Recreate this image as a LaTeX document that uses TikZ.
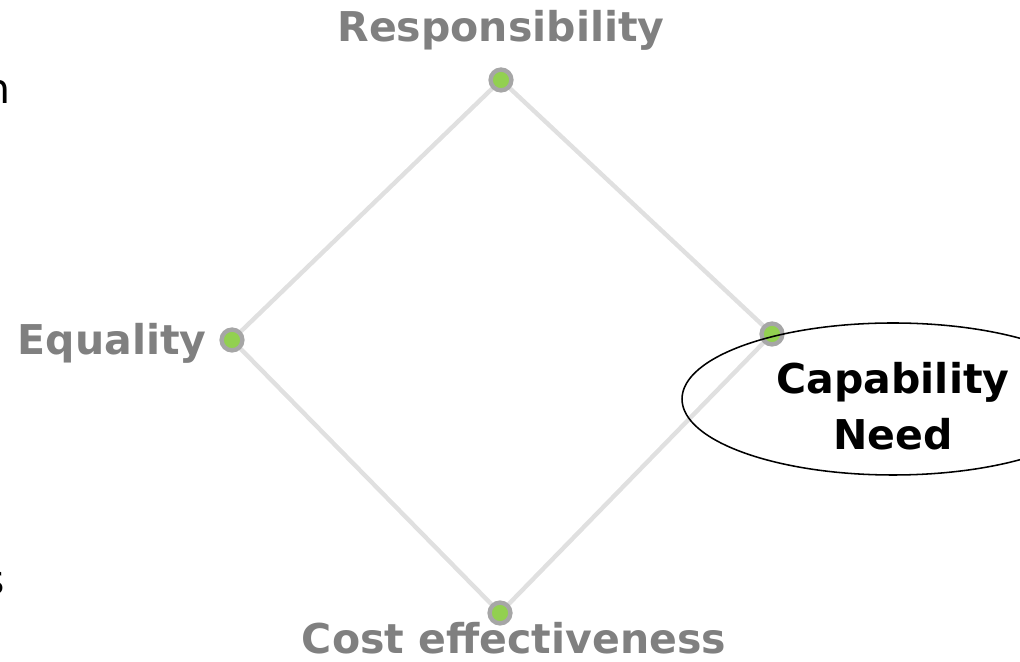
\documentclass[tikz,border=0pt]{standalone}
\usepackage{fontspec}
\setmainfont{DejaVu Sans}
\usepackage{tikz}
\usetikzlibrary{shapes.geometric}
\definecolor{ringgray}{HTML}{A6A6A6}
\definecolor{dotgreen}{HTML}{92D050}
\definecolor{labelgray}{HTML}{808080}
\definecolor{edgegray}{HTML}{E0E0E0}

\begin{document}
\begin{tikzpicture}[
	dot/.style={circle, draw=ringgray, fill=dotgreen, line width=0.11cm, minimum size=0.52cm, inner sep=0pt},
	edge/.style={draw=edgegray, line width=0.11cm},
	corner/.style={font=\fontsize{29.2}{40.5}\selectfont\bfseries, text=labelgray, inner sep=0pt},
	needtext/.style={font=\fontsize{29.2}{40.5}\selectfont\bfseries, align=center, inner sep=0pt},
	cut/.style={font=\fontsize{29.2}{40.5}\selectfont, inner sep=0pt, anchor=base east}
	]
			%%%%% START %%%%%
			
			\useasboundingbox (0, 0) rectangle (25.5, 16.55);
			\clip (0, 0) rectangle (25.5, 16.55);
			
			\coordinate (resp) at (12.525, 14.55);
			\coordinate (equal) at (5.8, 8.05);
			\coordinate (capab) at (19.3, 8.2);
			\coordinate (cost) at (12.5, 1.225);
			
			\draw[edge] (resp) -- (equal) -- (cost) -- (capab) -- (resp);
			
			\node[dot] (respdot) at (resp) {};
			\node[dot] (equaldot) at (equal) {};
			\node[dot] (capabdot) at (capab) {};
			\node[dot] (costdot) at (cost) {};
			
			\node[corner, anchor=base] (resplbl) at (12.525, 15.5) {Responsibility};
			\node[corner, anchor=base east] (equallbl) at (5.175, 7.675) {Equality};
			\node[corner, anchor=base] (costlbl) at (12.85, 0.2) {Cost effectiveness};
			
			\node[ellipse, draw=black, line width=1.1pt, minimum width=10.55cm, minimum height=3.8cm] (need) at (22.325, 6.575) {};
			\node[needtext] (needlbl) at ([yshift=-0.18cm]need.center) {Capability\\Need};
			
			\node[cut] (cuttop) at (0.275, 13.95) {n};
			\node[cut] (cutbot) at (0.125, 1.675) {s};
			
			%%%%% END %%%%%
\end{tikzpicture}
\end{document}
